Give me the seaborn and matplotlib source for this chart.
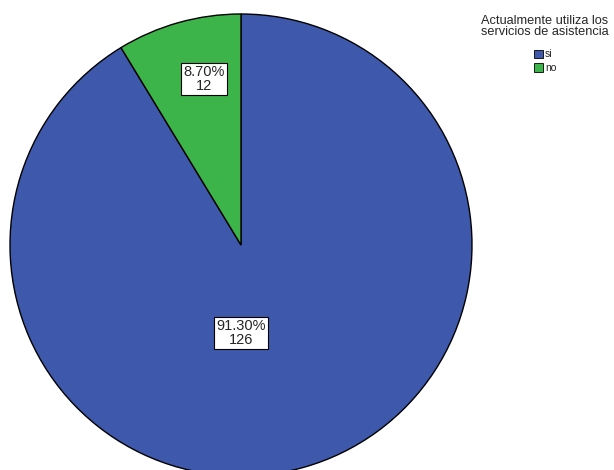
import numpy as np
import pandas as pd
import matplotlib
matplotlib.use("Agg")
import matplotlib.pyplot as plt
import seaborn as sns
from matplotlib.patches import Patch

categorias = ["si", "no"]
conteos = [126, 12]
porcentajes = ["91.30%", "8.70%"]
colores = ["#3e58ac", "#3cb44a"]

sns.set_style("white")
plt.rcParams["font.family"] = ["Liberation Sans", "DejaVu Sans"]

df = pd.DataFrame({"respuesta": categorias, "n": conteos})

fig = plt.figure(figsize=(6.14, 4.70), dpi=100)
ax = fig.add_axes([10 / 614, -6 / 470, 462 / 614, 462 / 470])

ax.pie(df["n"], colors=colores, startangle=90, counterclock=False,
       wedgeprops=dict(edgecolor="black", linewidth=1))
ax.set_aspect("equal")
ax.set_xlim(-1, 1)
ax.set_ylim(-1, 1)

# posiciones de las etiquetas (como en SPSS)
pos = {"si": (0.0, -0.38), "no": (-0.16, 0.72)}
for cat, n, p in zip(categorias, conteos, porcentajes):
    x, y = pos[cat]
    ax.text(x, y, f"{p}\n{n}", ha="center", va="center", fontsize=10.5,
            linespacing=1.0,
            bbox=dict(facecolor="white", edgecolor="black", linewidth=0.8, pad=1.5))

handles = [Patch(facecolor=c, edgecolor="black", linewidth=0.6) for c in colores]
leg = fig.legend(handles, categorias, title="Actualmente utiliza los\nservicios de asistencia",
                 loc="upper center", bbox_to_anchor=(545 / 614, 1 - 10 / 470),
                 frameon=False, fontsize=7.5, title_fontsize=9.2, alignment="center",
                 handlelength=0.9, handleheight=0.9, handletextpad=0.15,
                 labelspacing=0.35, borderpad=0)
leg.get_title().set_linespacing(0.9)
leg.get_title().set_multialignment("center")
leg._legend_box.sep = 8

fig.savefig("out.png", dpi=100)
